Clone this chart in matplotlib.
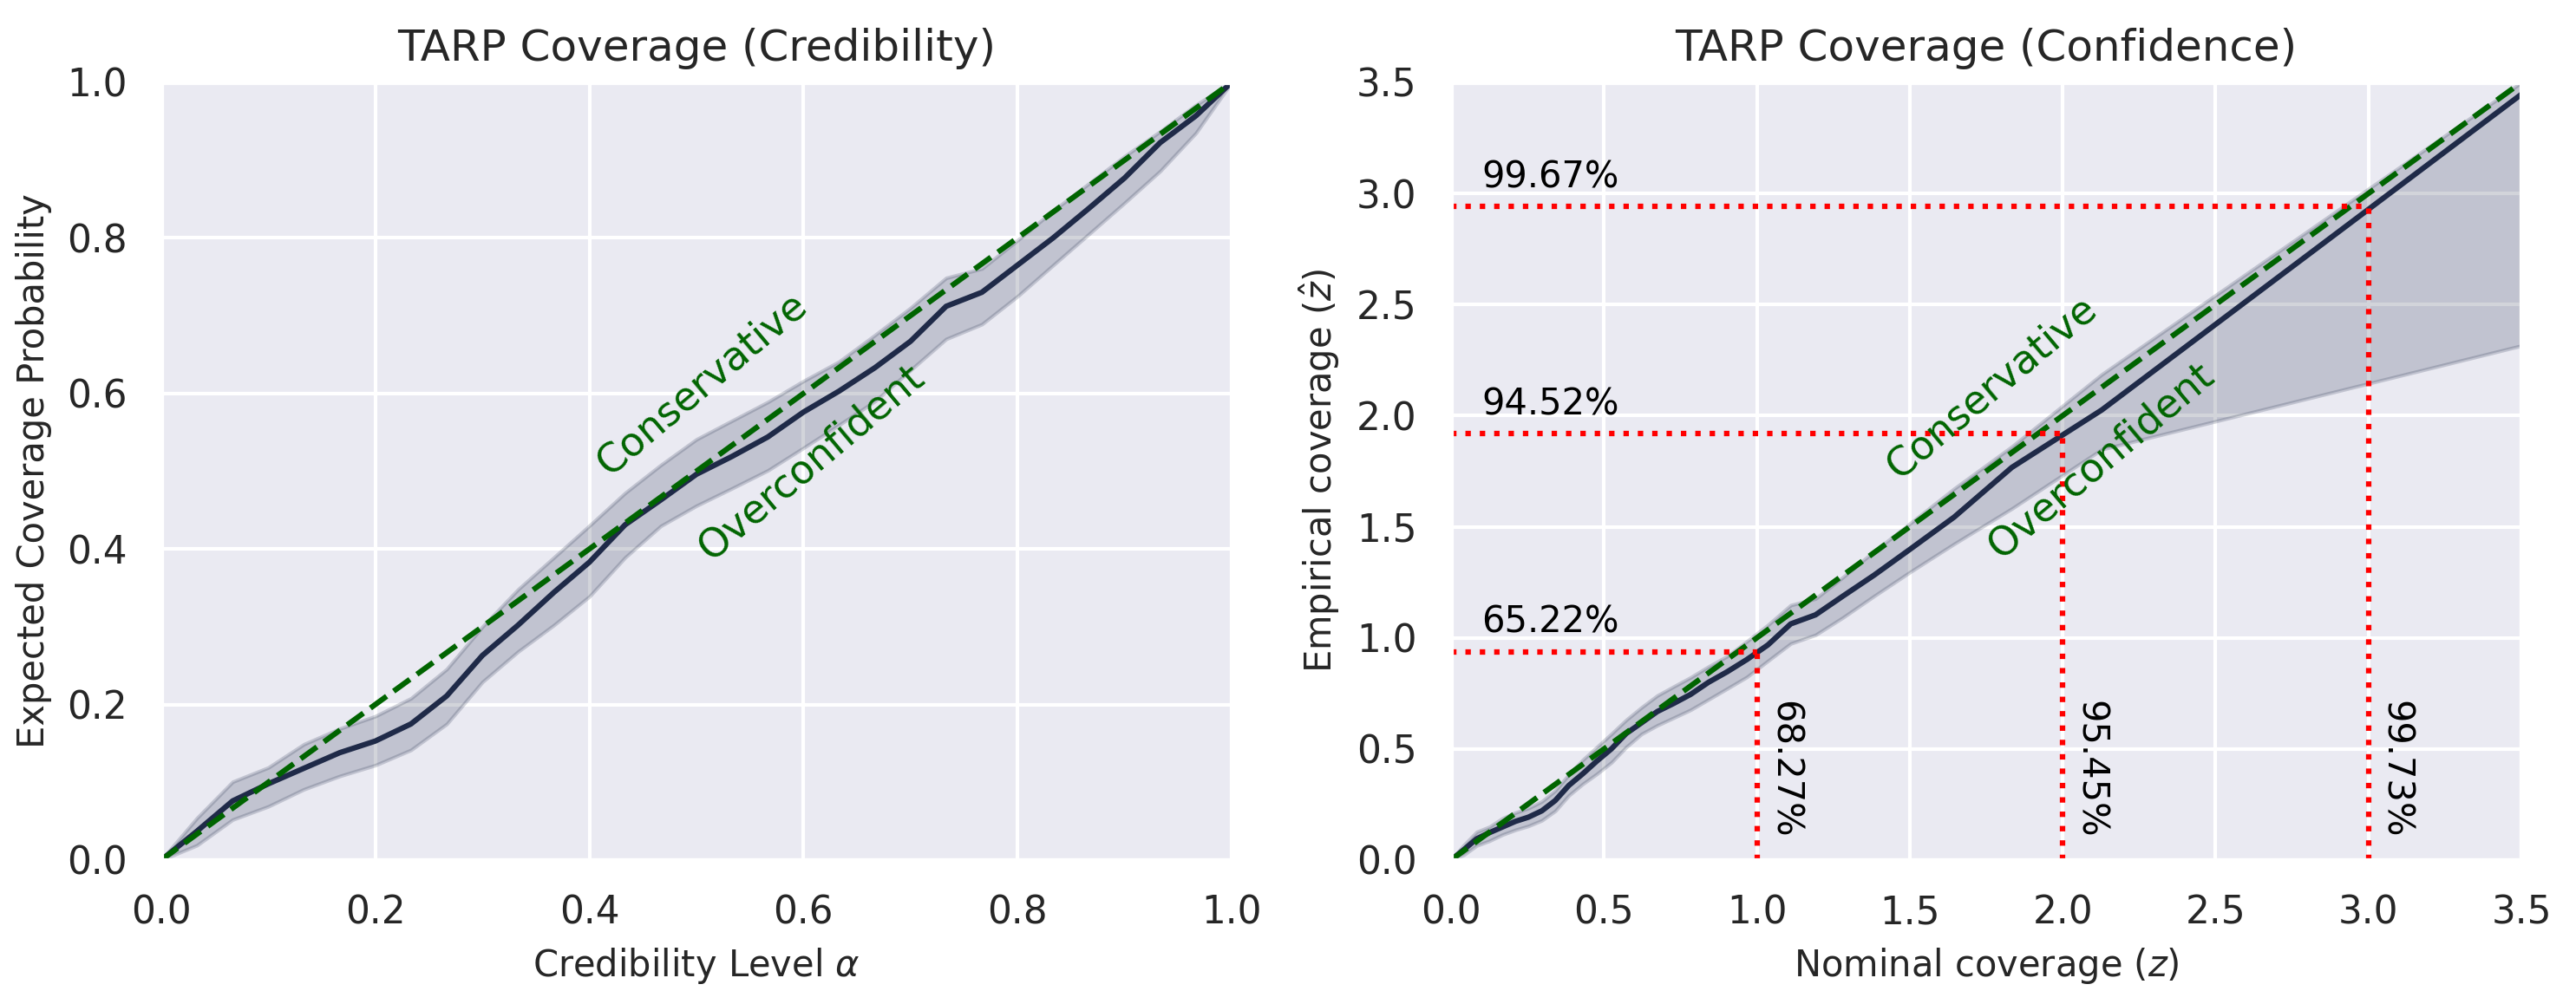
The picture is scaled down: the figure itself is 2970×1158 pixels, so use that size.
import numpy as np
import matplotlib
matplotlib.use('Agg')
import matplotlib.pyplot as plt
import seaborn as sns

sns.set_theme(style='darkgrid')
plt.rcParams['font.family'] = ['DejaVu Sans']
plt.rcParams['xtick.labelsize'] = 10.5
plt.rcParams['ytick.labelsize'] = 10.5
plt.rcParams['axes.labelsize'] = 10
plt.rcParams['axes.titlesize'] = 12

# credibility panel: alpha grid and expected coverage (mean, lower, upper)
alpha = [0.0, 0.0333, 0.0667, 0.1, 0.1333, 0.1667, 0.2, 0.2333, 0.2667, 0.3,
         0.3333, 0.3667, 0.4, 0.4333, 0.4667, 0.5, 0.5333, 0.5667, 0.6, 0.6333,
         0.6667, 0.7, 0.7333, 0.7667, 0.8, 0.8333, 0.8667, 0.9, 0.9333, 0.9667, 1.0]
ecp = [0.0, 0.037, 0.076, 0.098, 0.118, 0.138, 0.153, 0.175, 0.211, 0.263,
       0.302, 0.344, 0.383, 0.431, 0.463, 0.496, 0.519, 0.544, 0.576, 0.603,
       0.633, 0.667, 0.712, 0.730, 0.765, 0.800, 0.838, 0.877, 0.9225, 0.957, 1.0]
ecp_lo = [0.0, 0.019, 0.052, 0.069, 0.091, 0.108, 0.122, 0.1416, 0.175, 0.229,
          0.268, 0.302, 0.339, 0.389, 0.4296, 0.4556, 0.478, 0.501, 0.530, 0.5596,
          0.590, 0.630, 0.670, 0.689, 0.725, 0.765, 0.805, 0.845, 0.886, 0.935, 1.0]
ecp_hi = [0.0, 0.054, 0.1007, 0.119, 0.149, 0.169, 0.185, 0.208, 0.2456, 0.300,
          0.348, 0.389, 0.430, 0.472, 0.508, 0.541, 0.565, 0.589, 0.616, 0.641,
          0.675, 0.710, 0.7486, 0.7606, 0.797, 0.835, 0.870, 0.905, 0.937, 0.971, 1.0]

# confidence panel: nominal z and empirical z-hat (mean, lower, upper)
z_nom = [0.0, 0.0418, 0.0837, 0.1257, 0.1679, 0.2104, 0.2533, 0.2967, 0.3407, 0.3853,
         0.4307, 0.4770, 0.5244, 0.5730, 0.6229, 0.6745, 0.7279, 0.7835, 0.8416, 0.9027,
         0.9674, 1.0364, 1.1108, 1.1918, 1.2816, 1.3830, 1.5011, 1.6449, 1.8339, 2.1280, 3.72]
z_emp = [0.0, 0.0464, 0.0954, 0.1232, 0.1485, 0.1739, 0.1930, 0.2212, 0.2677, 0.3359,
         0.3880, 0.4455, 0.5002, 0.5696, 0.6174, 0.6683, 0.7047, 0.7455, 0.7996, 0.8470,
         0.9023, 0.9683, 1.0627, 1.1034, 1.1879, 1.2816, 1.3987, 1.5430, 1.7670, 2.0256, 3.674]
z_lo = [0.0, 0.0238, 0.0652, 0.0866, 0.1143, 0.1358, 0.1536, 0.1784, 0.2212, 0.2912,
        0.3425, 0.3880, 0.4395, 0.5088, 0.5675, 0.6062, 0.6403, 0.6761, 0.7226, 0.7715,
        0.8240, 0.8967, 0.9744, 1.0134, 1.0918, 1.1879, 1.2964, 1.4228, 1.5818, 1.8483, 2.39]
z_hi = [0.0, 0.0677, 0.1266, 0.1498, 0.1878, 0.2135, 0.2340, 0.2637, 0.3129, 0.3853,
        0.4510, 0.5088, 0.5681, 0.6311, 0.6872, 0.7405, 0.7808, 0.8222, 0.8706, 0.9173,
        0.9844, 1.0584, 1.1473, 1.1765, 1.2733, 1.3890, 1.5153, 1.6714, 1.8610, 2.1860, 3.71]

# sigma markers
sigmas = [1.0, 2.0, 3.0]
sigma_emp = [0.938, 1.920, 2.940]
emp_labels = ['65.22%', '94.52%', '99.67%']
nom_labels = ['68.27%', '95.45%', '99.73%']

line_c = '#1f2a48'

fig, (ax1, ax2) = plt.subplots(1, 2, figsize=(9.9, 3.86), dpi=300)
fig.subplots_adjust(left=0.0626, right=0.9788, bottom=0.1434, top=0.918, wspace=0.205)

# left panel
ax1.fill_between(alpha, ecp_lo, ecp_hi, color=line_c, alpha=0.2, linewidth=1.0)
ax1.plot(alpha, ecp, color=line_c, lw=1.5)
ax1.plot([0, 1], [0, 1], '--', color='darkgreen', lw=1.5)
ax1.text(0.4, 0.485, 'Conservative', color='darkgreen', fontsize=11, rotation=40,
         ha='left', va='bottom', transform=ax1.transAxes)
ax1.text(0.495, 0.375, 'Overconfident', color='darkgreen', fontsize=11, rotation=40,
         ha='left', va='bottom', transform=ax1.transAxes)
ax1.set_xlim(0, 1)
ax1.set_ylim(0, 1)
ax1.set_xlabel(r'Credibility Level $\alpha$')
ax1.set_ylabel('Expected Coverage Probability')
ax1.set_title('TARP Coverage (Credibility)')

# right panel
ax2.fill_between(z_nom, z_lo, z_hi, color=line_c, alpha=0.2, linewidth=1.0)
ax2.plot(z_nom, z_emp, color=line_c, lw=1.5)
ax2.plot([0, 3.5], [0, 3.5], '--', color='darkgreen', lw=1.5)
for s, e, el, nl in zip(sigmas, sigma_emp, emp_labels, nom_labels):
    ax2.plot([0, s], [e, e], ':', color='red', lw=1.5)
    ax2.plot([s, s], [0, e], ':', color='red', lw=1.5)
    ax2.text(0.1, e + 0.05, el, color='black', fontsize=10, ha='left', va='bottom')
    ax2.text(s + 0.03, 0.1, nl, color='black', fontsize=10, rotation=-90,
             ha='left', va='bottom')
ax2.text(0.4, 0.48, 'Conservative', color='darkgreen', fontsize=11, rotation=40,
         ha='left', va='bottom', transform=ax2.transAxes)
ax2.text(0.495, 0.378, 'Overconfident', color='darkgreen', fontsize=11, rotation=40,
         ha='left', va='bottom', transform=ax2.transAxes)
ax2.set_xlim(0, 3.5)
ax2.set_ylim(0, 3.5)
ax2.set_xlabel(r'Nominal coverage ($z$)')
ax2.set_ylabel(r'Empirical coverage ($\hat{z}$)')
ax2.set_title('TARP Coverage (Confidence)')

fig.savefig('out.png', dpi=300)
